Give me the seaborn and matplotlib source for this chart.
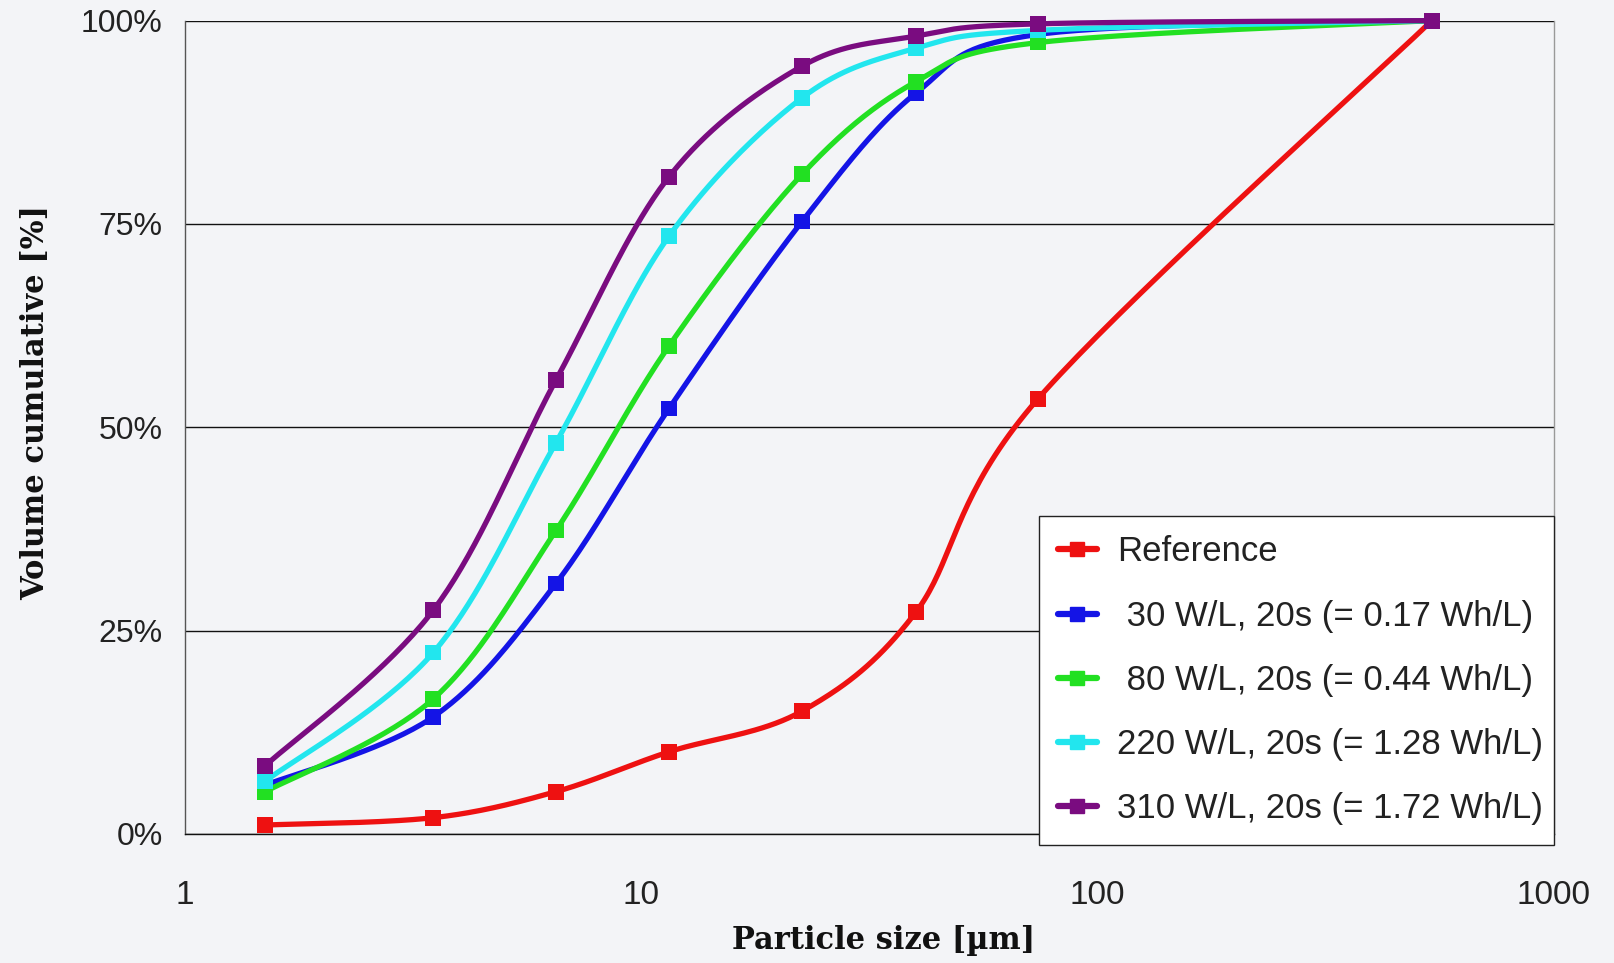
import numpy as np
import pandas as pd
import matplotlib
matplotlib.use("Agg")
import matplotlib.pyplot as plt
from matplotlib.ticker import FixedLocator, FuncFormatter, NullFormatter
from matplotlib.lines import Line2D
import seaborn as sns

# particle sizes (um) shared by all series
sizes = [1.5, 3.5, 6.5, 11.5, 22.5, 40, 74, 540]

reference = [1.1, 2.0, 5.2, 10.1, 15.1, 27.3, 53.5, 100]
w30 = [6.0, 14.4, 30.8, 52.3, 75.3, 91.1, 98.3, 100]
w80 = [5.2, 16.6, 37.3, 60.0, 81.1, 92.5, 97.3, 100]
w220 = [6.5, 22.3, 48.1, 73.5, 90.5, 96.6, 98.8, 100]
w310 = [8.4, 27.5, 55.8, 80.8, 94.4, 98.1, 99.6, 100]

labels = ["Reference", " 30 W/L, 20s (= 0.17 Wh/L)", " 80 W/L, 20s (= 0.44 Wh/L)",
          "220 W/L, 20s (= 1.28 Wh/L)", "310 W/L, 20s (= 1.72 Wh/L)"]
colors = ["#ee1111", "#1414e6", "#22e022", "#22e6ee", "#7a0c80"]
x_ticks = [1, 10, 100, 1000]
y_ticks = [0, 25, 50, 75, 100]

series = [reference, w30, w80, w220, w310]
df = pd.concat([pd.DataFrame({"size": sizes, "cum": s, "series": lab})
                for s, lab in zip(series, labels)], ignore_index=True)


def smooth(xs, ys, n=40):
    # excel-like smoothed line: bezier through points, done in log-x / screen-like space
    u = np.log10(np.asarray(xs, float)) * 443.0
    v = np.asarray(ys, float) * 7.9
    P = np.column_stack([u, v])
    P = np.vstack([P[0], P, P[-1]])
    out = []
    t = np.linspace(0, 1, n)[:, None]
    for i in range(1, len(P) - 2):
        b0 = P[i]
        b1 = P[i] + (P[i + 1] - P[i - 1]) / 6
        b2 = P[i + 1] - (P[i + 2] - P[i]) / 6
        b3 = P[i + 1]
        c = (1 - t) ** 3 * b0 + 3 * (1 - t) ** 2 * t * b1 + 3 * (1 - t) * t ** 2 * b2 + t ** 3 * b3
        out.append(c)
    c = np.vstack(out)
    return 10 ** (c[:, 0] / 443.0), np.minimum(c[:, 1] / 7.9, 100)


sns.set_style("white")
plt.rcParams["font.family"] = ["Liberation Sans", "DejaVu Sans"]

fig = plt.figure(figsize=(16.14, 9.63), dpi=100)
fig.patch.set_facecolor("#f3f4f7")
ax = fig.add_axes([0.1146, 0.134, 0.8482, 0.8446])
ax.set_facecolor("none")

for lab, col in zip(labels, colors):
    d = df[df["series"] == lab]
    sx, sy = smooth(d["size"], d["cum"])
    ax.plot(sx, sy, color=col, lw=3.8, solid_capstyle="round", zorder=3, clip_on=False)

sns.scatterplot(data=df, x="size", y="cum", hue="series", palette=colors,
                hue_order=labels, marker="s", s=130, linewidth=0, ax=ax,
                legend=False, zorder=4, clip_on=False)

ax.set_xscale("log")
ax.set_xlim(1, 1000)
ax.set_ylim(0, 100)

ax.xaxis.set_major_locator(FixedLocator(x_ticks))
ax.xaxis.set_major_formatter(FuncFormatter(lambda v, p: f"{v:g}"))
ax.xaxis.set_minor_locator(FixedLocator([m * 10 ** e for e in range(3) for m in range(2, 10)]))
ax.xaxis.set_minor_formatter(NullFormatter())
ax.set_yticks(y_ticks)
ax.set_yticklabels([f"{v}%" for v in y_ticks])

ax.tick_params(axis="x", which="major", direction="inout", length=14, width=1,
               color="#333333", pad=26, labelsize=24, labelcolor="#222222")
ax.tick_params(axis="x", which="minor", direction="inout", length=10, width=1, color="#333333")
ax.tick_params(axis="y", which="major", direction="out", length=10, width=1,
               color="#333333", pad=6, labelsize=23, labelcolor="#222222")
ax.yaxis.grid(True, color="#111111", lw=1)
ax.xaxis.grid(False)
ax.set_axisbelow(True)

ax.spines["top"].set_visible(False)
ax.spines["left"].set_color("#555555")
ax.spines["right"].set_color("#999999")
ax.spines["bottom"].set_color("#111111")
for sp in ax.spines.values():
    sp.set_linewidth(1)

ax.set_xlabel("Particle size [µm]", family="DejaVu Serif", fontweight="bold",
              fontsize=22, color="#111111")
ax.set_ylabel("Volume cumulative [%]", family="DejaVu Serif", fontweight="bold",
              fontsize=22, color="#111111")
ax.xaxis.set_label_coords(0.51, -0.112)
ax.yaxis.set_label_coords(-0.098, 0.53)

handles = [Line2D([], [], color=c, lw=4.5, marker="s", markersize=10) for c in colors]
leg = ax.legend(handles, labels, loc="lower left", bbox_to_anchor=(0.624, -0.013, 0.376, 0.402),
                mode="expand", borderaxespad=0, fontsize=25, handlelength=1.1,
                handletextpad=0.6, labelspacing=0.9, borderpad=0.55, fancybox=False,
                framealpha=1, facecolor="white", edgecolor="#222222")
leg.get_frame().set_linewidth(1)
leg.set_zorder(5)
for t in leg.get_texts():
    t.set_color("#222222")

fig.savefig("out.png", dpi=100, facecolor=fig.get_facecolor())
